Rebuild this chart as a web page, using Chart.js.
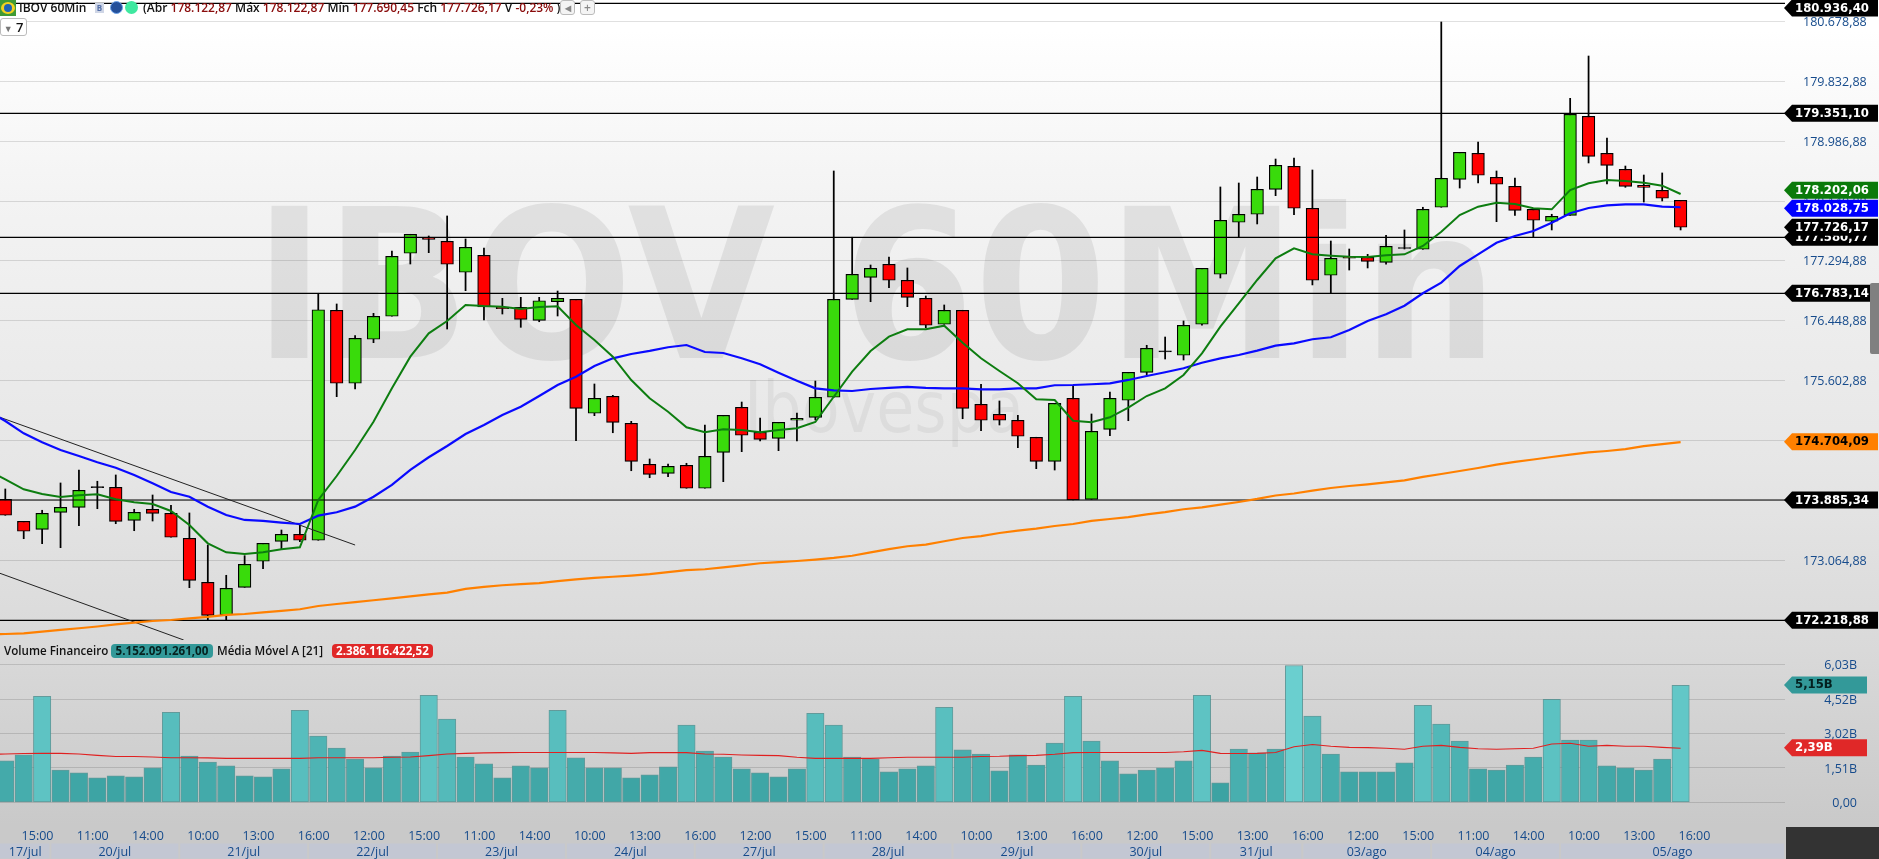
<!DOCTYPE html>
<html lang="pt-BR">
<head>
<meta charset="utf-8">
<title>IBOV 60Min</title>
<script src="https://cdn.jsdelivr.net/npm/chart.js@4"></script>
<style>
html,body{margin:0;padding:0;width:1879px;height:859px;overflow:hidden;
  background:linear-gradient(180deg,#fff 0,#fff 30px,#f3f3f3 200px,#e6e6e6 470px,#d9d9d9 650px,#c9c9c9 825px,#c9c9c9 859px);}
#c{position:absolute;left:0;top:0;}
.t{position:absolute;white-space:nowrap;font-family:"Open Sans",sans-serif;font-weight:600;font-size:12px;line-height:16px;color:#111;}
.m{color:#8a0c0c}
.pill{position:absolute;border-radius:4px;text-align:center;font-family:"Open Sans",sans-serif;font-weight:700;font-size:11.6px;line-height:14px;white-space:nowrap;}
.btn{position:absolute;box-sizing:border-box;background:#f4f4f4;border:1px solid #bbb;border-radius:3px;font:600 12px/13px "Open Sans",sans-serif;color:#888;text-align:center;}
</style>
</head>
<body>
<canvas id="c" width="1879" height="859"></canvas>

<div style="position:absolute;left:0;top:0;width:16px;height:16px;background:#3f9a35"></div>
<div style="position:absolute;left:1px;top:2px;width:14px;height:12px;background:#f3d21f;border-radius:50%"></div>
<div style="position:absolute;left:4px;top:4px;width:8px;height:8px;background:#1f63b5;border-radius:50%"></div>
<div class="t" style="left:19px;top:0">IBOV 60Min</div>
<div style="position:absolute;left:95px;top:3px;width:9px;height:10px;background:#cfd6e6;color:#5570a8;font:700 8px/10px 'Open Sans';text-align:center">B</div>
<div style="position:absolute;left:110px;top:1px;width:13px;height:13px;border-radius:50%;background:#24509a;border:1px solid #6aa0e8;box-sizing:border-box"></div>
<div style="position:absolute;left:125px;top:1px;width:13px;height:13px;border-radius:50%;background:#3fe8a0"></div>
<div class="t" style="left:143px;top:0">(Abr <span class="m">178.122,87</span> Máx <span class="m">178.122,87</span> Mín <span class="m">177.690,45</span> Fch <span class="m">177.726,17</span> V <span class="m">-0,23%</span> )</div>
<div class="btn" style="left:560px;top:0;width:15px;height:15px">◂</div>
<div class="btn" style="left:580px;top:0;width:15px;height:15px">+</div>
<div class="btn" style="left:0;top:18px;width:27px;height:18px;color:#111;line-height:16px;font-size:13px;background:#fff"><span style="color:#777;font-size:9px">▼</span> 7</div>

<div class="t" style="left:4px;top:643px;font-size:11.6px">Volume Financeiro</div>
<div class="pill" style="left:111px;top:644px;width:102px;height:14px;background:#339999;color:#06211f">5.152.091.261,00</div>
<div class="t" style="left:217px;top:643px;font-size:11.6px">Média Móvel A [21]</div>
<div class="pill" style="left:332px;top:644px;width:101px;height:14px;background:#e02828;color:#fff">2.386.116.422,52</div>

<div style="position:absolute;left:1786px;top:827px;width:93px;height:32px;background:#333"></div>
<div style="position:absolute;left:1870px;top:283px;width:9px;height:71px;background:#808080;border-radius:2px 0 0 2px"></div>

<script>
// ---- tick labels ----
const timeLabels = ["15:00","11:00","14:00","10:00","13:00","16:00","12:00","15:00","11:00","14:00","10:00","13:00","16:00","12:00","15:00","11:00","14:00","10:00","13:00","16:00","12:00","15:00","13:00","16:00","12:00","15:00","11:00","14:00","10:00","13:00","16:00"];
const dateLabels = ["17/jul","20/jul","21/jul","22/jul","23/jul","24/jul","27/jul","28/jul","29/jul","30/jul","31/jul","03/ago","04/ago","05/ago"];
const dayFirstBar = [0,3,10,17,24,31,38,45,52,59,66,71,78,85];
const priceTicks = [180678.88,179832.88,178986.88,178140.88,177294.88,176448.88,175602.88,174756.88,173910.88,173064.88,172218.88];
const priceTickLabels = ["180.678,88","179.832,88","178.986,88","178.140,88","177.294,88","176.448,88","175.602,88","174.756,88","173.910,88","173.064,88","172.218,88"];
const volumeTicks = [0,1.51,3.02,4.52,6.03];
const volumeTickLabels = ["0,00","1,51B","3,02B","4,52B","6,03B"];

// ---- candles ----
const opens = [173925,173614,173501,173741,173812,174104,174095,173628,173784,173727,173374,172752,172290,172681,173049,173331,173430,173346,176597,175565,176187,176512,177403,177623,177572,177134,177374,176643,176639,176455,176718,176752,175141,175381,174999,174420,174292,174406,174081,174589,175225,174872,174787,175042,175084,175367,176752,177063,177247,177021,176766,176399,176597,175268,175127,175042,174802,174462,175353,173925,174914,175325,175720,176024,175961,176399,177106,177841,177954,178307,178632,178039,177092,177346,177346,177275,177484,177459,178053,178448,178816,178477,178349,178024,177855,177939,179339,178816,178590,178363,178293,178151];
const highs = [174071,173614,173770,174156,174339,174180,174269,173784,173986,173840,173732,173279,172851,173128,173303,173491,173562,176837,176686,176238,176554,177435,177671,177647,177930,177605,177477,176766,176780,176780,176869,176752,175555,175395,175027,174495,174424,174434,174975,175112,175300,175074,175013,175145,175597,178566,177629,177237,177350,177195,176799,176672,176597,175551,175315,175112,174802,175282,175527,175131,175442,175720,176102,176219,176446,177190,178340,178396,178481,178735,178750,178580,177576,177463,177388,177657,177732,178053,180672,178830,178976,178566,178467,178024,177954,179593,180191,179032,178636,178509,178538,178151];
const lows = [173699,173368,173298,173241,173552,173792,173580,173481,173618,173388,172676,172219,172219,172681,172944,173218,173326,173346,175376,175484,176139,176512,177251,177411,176332,176874,176460,176544,176356,176435,176516,174753,175107,174866,174329,174230,174245,174081,174081,174174,174598,174749,174612,174749,175046,175367,176752,176718,176916,176648,176351,176399,175064,174895,174975,174655,174358,174339,173915,173925,174824,175036,175682,175908,175894,176385,177053,177629,177817,178217,177948,176955,176837,177166,177195,177247,177463,177459,178053,178325,178396,177849,177939,177629,177732,177939,178679,178382,178335,178127,178142,177732];
const closes = [173699,173473,173727,173812,174052,174090,173614,173741,173727,173388,172780,172285,172667,173006,173303,173430,173346,176605,175565,176201,176512,177360,177671,177600,177247,177487,176643,176619,176469,176732,176766,175211,175353,175013,174462,174278,174391,174081,174533,175112,174830,174773,175013,175070,175367,176752,177106,177190,177021,176780,176385,176597,175211,175042,175042,174816,174462,175282,173915,174886,175353,175720,176060,176010,176385,177190,177869,177954,178307,178646,178039,177021,177332,177332,177289,177501,177470,178024,178462,178830,178505,178378,178010,177869,177925,179367,178773,178646,178349,178335,178180,177770];

// ---- moving averages: the first value belongs to the bar just left of the visible window ----
const maGreen = [174340,174208,174067,174000,173958,173982,173996,173925,173883,173859,173760,173562,173303,173176,173152,173176,173219,173247,173915,174254,174622,175022,175494,175941,176271,176445,176672,176657,176648,176615,176643,176653,176389,176177,175941,175611,175353,175163,174943,174872,174914,174905,174872,174905,174929,175018,175375,175729,176021,176224,176328,176328,176379,176139,175918,175739,175565,175339,175329,175036,175013,175084,175220,175385,175494,175682,175989,176365,176696,177025,177332,177473,177388,177369,177354,177350,177374,177388,177506,177708,177944,178061,178118,178099,178039,178024,178297,178392,178439,178425,178400,178358,178241];
const maBlue = [175186,175032,174858,174731,174622,174537,174448,174372,174269,174152,174029,173962,173821,173703,173633,173619,173595,173576,173694,173742,173821,173962,174128,174340,174519,174679,174848,174976,175117,175234,175386,175541,175658,175810,175918,175979,176022,176074,176106,176007,175993,175918,175834,175715,175602,175494,175466,175456,175484,175499,175513,175499,175494,175494,175480,175480,175494,175494,175537,175541,175551,175565,175612,175668,175721,175777,175856,175918,175965,176026,176097,176130,176187,176215,176318,176446,176540,176662,176837,176987,177223,177388,177552,177647,177718,177835,177968,178043,178081,178095,178095,178061,178053];
const maOrange = [172014,172021,172031,172054,172078,172102,172127,172156,172181,172205,172219,172243,172262,172290,172304,172328,172347,172371,172417,172445,172471,172498,172525,172552,172580,172605,172658,172686,172710,172725,172741,172769,172792,172813,172830,172847,172867,172895,172923,172936,172964,172992,173021,173036,173053,173073,173096,173127,173174,173220,173261,173284,173332,173378,173404,173449,173482,173510,173548,173576,173621,173647,173672,173713,173743,173784,173812,173849,173887,173930,173979,174007,174047,174085,174113,174137,174164,174192,174241,174283,174325,174368,174414,174454,174488,174523,174556,174587,174608,174634,174676,174704,174732];

// ---- volume, billions ----
const volumes = [1.82,2.08,4.65,1.42,1.29,1.08,1.16,1.12,1.51,3.95,2.03,1.77,1.60,1.16,1.12,1.47,4.04,2.91,2.38,1.90,1.51,2.03,2.21,4.69,3.65,1.99,1.69,1.08,1.60,1.51,4.04,1.95,1.51,1.51,1.08,1.21,1.56,3.39,2.25,1.99,1.47,1.29,1.12,1.47,3.91,3.39,1.99,1.90,1.34,1.47,1.60,4.17,2.30,2.12,1.38,2.08,1.64,2.60,4.65,2.69,1.82,1.25,1.42,1.51,1.82,4.69,0.86,2.34,2.17,2.34,6.00,3.78,2.12,1.34,1.34,1.34,1.73,4.26,3.43,2.69,1.47,1.42,1.64,1.99,4.52,2.73,2.73,1.60,1.51,1.42,1.90,5.13];
const volumeAvg = [2.11,2.12,2.14,2.15,2.15,2.12,2.06,2.01,2.01,1.99,1.96,1.96,1.95,1.93,1.93,1.93,1.93,1.93,1.96,1.96,1.96,1.96,1.98,1.99,2.05,2.12,2.15,2.17,2.18,2.19,2.19,2.19,2.19,2.19,2.17,2.15,2.18,2.19,2.18,2.12,2.11,2.08,2.06,2.05,1.98,1.93,1.93,1.93,1.93,1.96,1.98,1.98,1.98,1.98,2.01,2.02,2.05,2.06,2.11,2.18,2.19,2.19,2.19,2.19,2.19,2.22,2.28,2.15,2.14,2.15,2.19,2.44,2.54,2.46,2.41,2.40,2.37,2.33,2.46,2.50,2.41,2.35,2.33,2.35,2.37,2.56,2.59,2.46,2.50,2.46,2.46,2.41,2.37];

const levelValues = [180936,179381,177628,176837,173915,172214];
// ---- trend lines: bar index and price at each end ----
const trendAX = [-0.29,19.0], trendAY = [175084,173279];
const trendBX = [-0.29,9.69], trendBY = [172879,171936];

// ---- value tags on the right ----
const tagTexts  = ["180.936,40","179.351,10","177.580,77","178.202,06","178.028,75","177.726,17","176.783,14","174.704,09","173.885,34","172.218,88"];
const tagValues = [180936,179381,177628,178293,178039,177770,176837,174740,173915,172214];
const tagFills  = ["#000","#000","#000","#0a7a0a","#0000ff","#000","#000","#ff8000","#000","#000"];
const tagInks   = ["#fff","#fff","#fff","#fff","#fff","#fff","#fff","#000","#fff","#fff"];
const volTagTexts = ["5,15B","2,39B"];
const volTagValues = [5.15,2.39];
const volTagFills = ["#339999","#e02828"];
const volTagInks = ["#04201f","#fff"];

const XMIN=-0.288, XMAX=96.67;
const idx = volumes.map((_,i)=>i);
const maPts = a => a.map((y,i)=>({x:i-1,y}));
const GREEN="#39db0b", RED="#ff0000";
const bodyColors = idx.map(i=>{
  const d=closes[i]-opens[i];
  if(Math.abs(d)<20 && (i===5||i===63||i===76)) return "#000";
  return d>=0?GREEN:RED;
});
const volColors = volumes.map(v=>{
  const t=Math.max(0,Math.min(1,(v-1)/5));
  const r=Math.round(60+46*t), g=Math.round(163+44*t), b=Math.round(163+44*t);
  return `rgb(${r},${g},${b})`;
});
const levelData = levelValues.map(v=>[{x:XMIN,y:v},{x:XMAX,y:v}]);

function tag(ctx,y,text,fill,ink,right){
  const h=17,l=1784,b=1792;
  ctx.fillStyle=fill;
  ctx.beginPath();
  ctx.moveTo(l,y);ctx.lineTo(b,y-h/2);ctx.lineTo(right,y-h/2);ctx.lineTo(right,y+h/2);ctx.lineTo(b,y+h/2);ctx.closePath();ctx.fill();
  ctx.fillStyle=ink;
  ctx.font='bold 11.7px "DejaVu Sans"';
  ctx.textAlign='left';ctx.textBaseline='middle';
  ctx.fillText(text,1795,y+0.5);
}

const marks={
  id:'marks',
  beforeDraw(chart){
    // the volume labels right-align at this edge, inside the axis box
    chart.scales.vol.right=1857;
    const c=chart.ctx;
    c.save();
    c.fillStyle='rgba(0,0,0,0.075)';
    c.textAlign='left';c.textBaseline='alphabetic';
    c.font='bold 208px "DejaVu Sans"';
    c.fillText('IBOV 60Min',254,358,1244);
    c.font='71px "DejaVu Sans"';
    c.fillStyle='rgba(0,0,0,0.05)';
    c.fillText('Ibovespa',744,432,280);
    // day bands
    const xd=chart.scales.xd;
    c.fillStyle='#c3c7d3';
    dayFirstBar.forEach((s,k)=>{
      const from=k===0?XMIN:s-0.55;
      const to=k===dayFirstBar.length-1?XMAX:dayFirstBar[k+1]-0.55;
      const a=xd.getPixelForValue(from)+(k===0?0:1);
      const b=xd.getPixelForValue(to)-1;
      c.fillRect(a,843.5,b-a,15);
    });
    c.restore();
  },
  afterDraw(chart){
    const c=chart.ctx, y=chart.scales.y, v=chart.scales.vol;
    c.save();
    tagTexts.forEach((t,i)=>{
      tag(c,Math.max(8,y.getPixelForValue(tagValues[i])),t,tagFills[i],tagInks[i],1878);
    });
    volTagTexts.forEach((t,i)=>{
      tag(c,v.getPixelForValue(volTagValues[i]),t,volTagFills[i],volTagInks[i],1867);
    });
    c.restore();
  }
};

const lineDs=(data,color,width,order,yAxisID='y')=>({type:'line',data,borderColor:color,borderWidth:width,pointRadius:0,tension:0,fill:false,order,yAxisID,xAxisID:'x'});
const barDs=(data,o)=>Object.assign({type:'bar',data,grouped:false,xAxisID:'x',yAxisID:'y',borderSkipped:false},o);
const noPad=s=>{s.paddingTop=0;s.paddingBottom=0;s.paddingLeft=0;s.paddingRight=0;};

const tickFont={family:'"Open Sans"',size:12.5};
const TICK_INK='#164b8c';
new Chart(document.getElementById('c'),{
  data:{datasets:[
    barDs(idx.map(i=>({x:i,y:volumes[i]})),{yAxisID:'vol',backgroundColor:volColors,borderColor:'rgba(70,140,140,0.8)',borderWidth:1,barThickness:17.4,order:8}),
    lineDs(maPts(volumeAvg),'#e02020',1.1,1,'vol'),
    barDs(idx.map(i=>({x:i,y:[lows[i],highs[i]]})),{backgroundColor:'#000',barThickness:1.1,order:7}),
    barDs(idx.map(i=>({x:i,y:[opens[i],closes[i]]})),{backgroundColor:bodyColors,borderColor:'#000',borderWidth:1.2,barThickness:12.6,order:6}),
    ...levelData.map(d=>lineDs(d,'#000',1.2,5)),
    lineDs(trendAX.map((x,i)=>({x,y:trendAY[i]})),'#222',1,4),
    lineDs(trendBX.map((x,i)=>({x,y:trendBY[i]})),'#222',1,4),
    lineDs(maPts(maOrange),'#ff8000',2.2,3),
    lineDs(maPts(maBlue),'#0a0aff',2.2,2),
    lineDs(maPts(maGreen),'#0d7d10',2,1)
  ]},
  options:{
    responsive:false,animation:false,devicePixelRatio:1,
    layout:{padding:0},
    plugins:{legend:{display:false},tooltip:{enabled:false}},
    scales:{
      x:{type:'linear',position:'bottom',min:XMIN,max:XMAX,weight:1,offset:false,
        grid:{display:false,drawTicks:false},border:{display:false},
        afterBuildTicks:s=>{s.ticks=timeLabels.map((_,k)=>({value:1.75+3*k}));},
        ticks:{autoSkip:false,maxRotation:0,padding:2.5,color:TICK_INK,font:tickFont,callback:(v,i)=>timeLabels[i]},
        afterFit:s=>{s.height=17;noPad(s);}},
      xd:{type:'linear',position:'bottom',min:XMIN,max:XMAX,weight:2,offset:false,
        grid:{display:false,drawTicks:false},border:{display:false},
        afterBuildTicks:s=>{s.ticks=dayFirstBar.map((d,k)=>{
          const a=k===0?XMIN:d-0.55, b=k===dayFirstBar.length-1?XMAX:dayFirstBar[k+1]-0.55;
          return {value:(a+b)/2};});},
        ticks:{autoSkip:false,maxRotation:0,padding:2,color:TICK_INK,font:tickFont,callback:(v,i)=>dateLabels[i]},
        afterFit:s=>{s.height=16;noPad(s);}},
      y:{type:'linear',position:'right',stack:'panes',stackWeight:640,min:171936.2,max:180982.8,weight:1,
        grid:{color:'rgba(0,0,0,0.12)',lineWidth:1,drawTicks:false},border:{display:false},
        afterBuildTicks:s=>{s.ticks=priceTicks.map(value=>({value}));},
        afterFit:s=>{s.width=94;noPad(s);},
        ticks:{autoSkip:false,padding:18,labelOffset:1,crossAlign:'near',color:TICK_INK,font:tickFont,callback:(v,i)=>priceTickLabels[i]}},
      vol:{type:'linear',position:'right',stack:'panes',stackWeight:186,min:-1.036,max:7.12,weight:2,
        grid:{color:'rgba(0,0,0,0.13)',lineWidth:1,drawTicks:false},border:{display:false},
        afterBuildTicks:s=>{s.ticks=volumeTicks.map(value=>({value}));},
        afterFit:s=>{s.width=94;noPad(s);},
        ticks:{autoSkip:false,padding:18.5,labelOffset:1,crossAlign:'far',color:TICK_INK,font:tickFont,callback:(v,i)=>volumeTickLabels[i]}}
    }
  },
  plugins:[marks]
});
</script>
</body>
</html>
